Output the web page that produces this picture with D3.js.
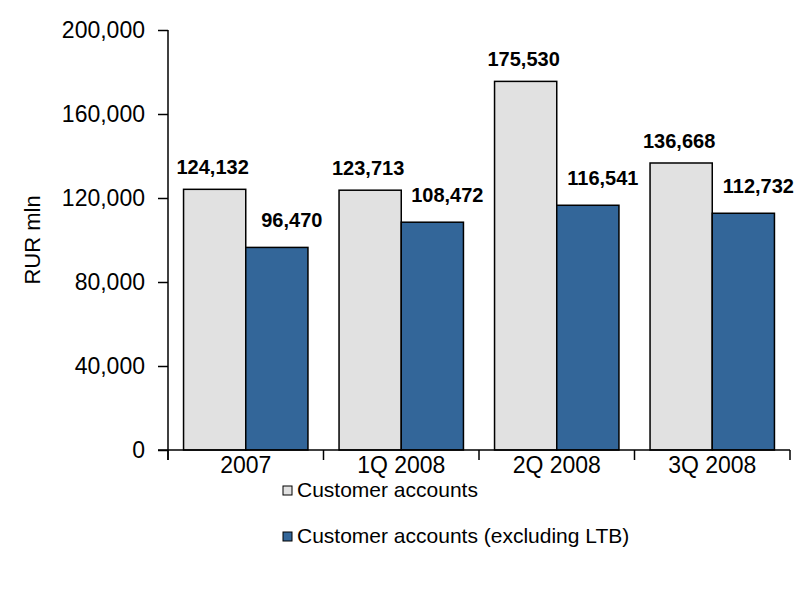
<!DOCTYPE html>
<html lang="en">
<head>
    <meta charset="UTF-8">
    <style>
        body { margin: 0; background: #fff; }
        svg text { fill: #000; }
        .tick-label { font-family: "Liberation Sans Narrow", "Arial Narrow", "Liberation Sans", sans-serif; font-size: 23px; }
        .value-label { font-family: "Liberation Sans", Arial, sans-serif; font-size: 20px; font-weight: bold; }
        .legend-label { font-family: "Liberation Sans", Arial, sans-serif; font-size: 21px; }
        .axis-title { font-family: "Liberation Sans", Arial, sans-serif; font-size: 22px; }
    </style>
    <script src="https://d3js.org/d3.v7.min.js"></script>
</head>
<body>
<svg width="798" height="597"></svg>
<script>
    // data
    var categories = ["2007", "1Q 2008", "2Q 2008", "3Q 2008"];
    var customerAccounts = [124132, 123713, 175530, 136668];
    var customerAccountsExLTB = [96470, 108472, 116541, 112732];
    var seriesNames = ["Customer accounts", "Customer accounts (excluding LTB)"];
    var seriesColors = ["#e1e1e1", "#336699"];
    var yTicks = [0, 40000, 80000, 120000, 160000, 200000];

    var svg = d3.select("svg");
    var plotLeft = 168, plotRight = 790, plotTop = 30, plotBottom = 450;

    var x = d3.scaleBand().domain(categories).range([plotLeft, plotRight]).paddingInner(0.2).paddingOuter(0.1);
    var bandAll = d3.scaleBand().domain(categories).range([plotLeft, plotRight]);
    var xs = d3.scaleBand().domain([0, 1]).range([0, x.bandwidth()]);
    var y = d3.scaleLinear().domain([0, 200000]).range([plotBottom, plotTop]);

    var fmt = d3.format(",");
    var series = [customerAccounts, customerAccountsExLTB];

    // bars + labels
    series.forEach(function(values, s) {
        svg.append("g").selectAll("rect")
            .data(values).enter()
            .append("rect")
            .attr("x", function(d, i) { return x(categories[i]) + xs(s); })
            .attr("y", function(d) { return y(d); })
            .attr("width", xs.bandwidth())
            .attr("height", function(d) { return y(0) - y(d); })
            .attr("fill", seriesColors[s])
            .attr("stroke", "#000")
            .attr("stroke-width", 1.5);

        svg.append("g").selectAll("text")
            .data(values).enter()
            .append("text")
            .attr("class", "value-label")
            .attr("text-anchor", "middle")
            .attr("x", function(d, i) { return x(categories[i]) + xs(s) + xs.bandwidth() / 2 + (s === 1 ? 15 : -2); })
            .attr("y", function(d) { return y(d) - (s === 1 ? 20 : 15); })
            .text(function(d) { return fmt(d); });
    });

    // y axis
    var yAxis = svg.append("g")
        .attr("transform", "translate(" + plotLeft + ",0)")
        .call(d3.axisLeft(y).tickValues(yTicks).tickFormat(fmt).tickSize(10).tickPadding(13));
    yAxis.select(".domain").attr("stroke", "#000").attr("stroke-width", 1.5).attr("d", "M0," + plotTop + "V" + (plotBottom + 10));
    yAxis.selectAll(".tick line").attr("stroke", "#000").attr("stroke-width", 1.5);
    yAxis.selectAll(".tick text").attr("class", "tick-label").attr("font-family", null).attr("font-size", null);

    // x axis
    var xAxis = svg.append("g")
        .attr("transform", "translate(0," + plotBottom + ")")
        .call(d3.axisBottom(bandAll).tickSize(0).tickPadding(7));
    xAxis.select(".domain").attr("stroke", "#000").attr("stroke-width", 1.5).attr("d", "M" + (plotLeft - 10) + ",0H" + plotRight);
    xAxis.selectAll(".tick text").attr("class", "tick-label").attr("font-family", null).attr("font-size", null);
    svg.append("g").selectAll("line")
        .data(categories.concat(["end"])).enter()
        .append("line")
        .attr("x1", function(d, i) { return plotLeft + i * bandAll.bandwidth(); })
        .attr("x2", function(d, i) { return plotLeft + i * bandAll.bandwidth(); })
        .attr("y1", plotBottom).attr("y2", plotBottom + 10)
        .attr("stroke", "#000").attr("stroke-width", 1.5);

    // y title
    svg.append("text")
        .attr("class", "axis-title")
        .attr("transform", "translate(40,240) rotate(-90)")
        .attr("text-anchor", "middle")
        .text("RUR mln");

    // legend
    var legend = svg.append("g").selectAll("g")
        .data(seriesNames).enter()
        .append("g")
        .attr("transform", function(d, i) { return "translate(283," + (486 + i * 46) + ")"; });
    legend.append("rect")
        .attr("width", 9).attr("height", 9)
        .attr("fill", function(d, i) { return seriesColors[i]; })
        .attr("stroke", "#000").attr("stroke-width", 1);
    legend.append("text")
        .attr("class", "legend-label")
        .attr("x", 14).attr("y", 11)
        .text(function(d) { return d; });
</script>
</body>
</html>
